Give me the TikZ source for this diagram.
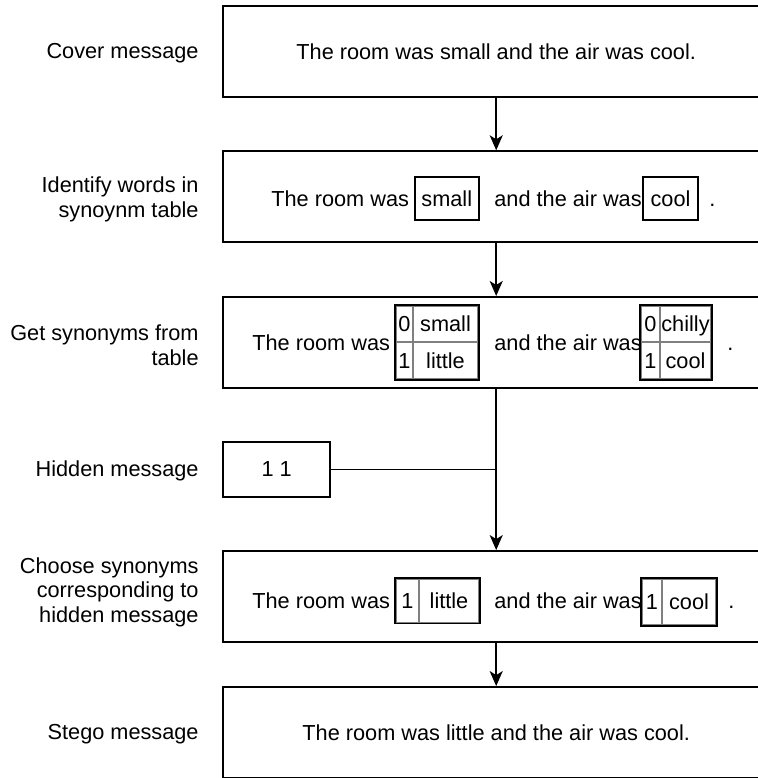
\documentclass[tikz,border=0pt]{standalone}
\usepackage{fontspec}
\setmainfont{Liberation Sans}
\usetikzlibrary{arrows.meta}

\begin{document}
\begin{tikzpicture}[x=0.5bp,y=-0.5bp,font=\fontsize{10.9}{12.3}\selectfont,stage/.style={shape=rectangle,draw=black,line width=0.9bp,minimum width=272.85bp,minimum height=45.5bp,inner sep=0pt},stepname/.style={anchor=east,align=right,inner sep=0pt},piece/.style={anchor=west,inner sep=0pt,text height=0.9em,text depth=0.1em},wordbox/.style={shape=rectangle,draw=black,line width=0.9bp,inner sep=0pt,minimum height=21.5bp,text height=0.9em,text depth=0.1em},cell/.style={shape=rectangle,draw=gray,line width=0.9bp,inner sep=0pt,text height=0.9em,text depth=0.1em},frame/.style={draw=black,line width=0.9bp},flow/.style={line width=0.9bp,-{Stealth[length=7.5bp,width=6.5bp,inset=2bp]}},link/.style={line width=0.9bp}]
\def\xm{496.2};
\def\xl{199};

\useasboundingbox (0,0) rectangle (758,778);
\clip (0,0) rectangle (758,778);

\node[stage] (cover) at (\xm,51.4) {The room was small and the air was cool.};
\node[stage] (ident) at (\xm,196.7) {};
\node[stage] (getsyn) at (\xm,342.4) {};
\node[stage,minimum width=53.35bp,minimum height=27.5bp] (hidden) at (276.6,469.5) {1 1};
\node[stage] (choose) at (\xm,596.5) {};
\node[stage] (stego) at (\xm,732.5) {The room was little and the air was cool.};

\node[stepname] (lcover) at (\xl,53) {Cover message};
\node[stepname] (lident) at (\xl,199.5) {Identify words in\\synoynm table};
\node[stepname] (lgetsyn) at (\xl,345) {Get synonyms from\\table};
\node[stepname] (lhidden) at (\xl,471) {Hidden message};
\node[stepname] (lchoose) at (\xl,592) {Choose synonyms\\corresponding to\\hidden message};
\node[stepname] (lstego) at (\xl,734) {Stego message};

\node[piece] (t2a) at (271,198.5) {The room was};
\node[wordbox,minimum width=32.2bp] (w2a) at (446.8,198.5) {small};
\node[piece] (t2b) at (494,198.5) {and the air was};
\node[wordbox,minimum width=27.5bp] (w2b) at (670.5,198.5) {cool};
\node[piece] (t2c) at (709,198.5) {.};

\node[piece] (t3a) at (252,342.4) {The room was};
\node[cell,minimum width=8.8bp,minimum height=18.25bp] (k3a) at (404.5,323.9) {0};
\node[cell,minimum width=32.2bp,minimum height=18.25bp] (v3a) at (445.5,323.9) {small};
\node[cell,minimum width=8.8bp,minimum height=18.25bp] (k3b) at (404.5,360.5) {1};
\node[cell,minimum width=32.2bp,minimum height=18.25bp] (v3b) at (445.5,360.5) {little};
\draw[frame] (k3a.north west) rectangle (v3b.south east);
\node[piece] (t3b) at (494,342.4) {and the air was};
\node[cell,minimum width=9.65bp,minimum height=18.25bp] (k3c) at (650.35,323.9) {0};
\node[cell,minimum width=25.5bp,minimum height=18.25bp] (v3c) at (685.5,323.9) {chilly};
\node[cell,minimum width=9.65bp,minimum height=18.25bp] (k3d) at (650.35,360.5) {1};
\node[cell,minimum width=25.5bp,minimum height=18.25bp] (v3d) at (685.5,360.5) {cool};
\draw[frame] (k3c.north west) rectangle (v3d.south east);
\node[piece] (t3c) at (727,342.4) {.};

\node[piece] (t5a) at (252,601) {The room was};
\node[cell,minimum width=11.5bp,minimum height=21.75bp] (k5a) at (407.5,600.75) {1};
\node[cell,minimum width=30bp,minimum height=21.75bp] (v5a) at (449,600.75) {little};
\draw[frame] (k5a.north west) rectangle (v5a.south east);
\node[piece] (t5b) at (494,601) {and the air was};
\node[cell,minimum width=10bp,minimum height=23bp] (k5b) at (652,602) {1};
\node[cell,minimum width=27bp,minimum height=23bp] (v5b) at (689,602) {cool};
\draw[frame] (k5b.north west) rectangle (v5b.south east);
\node[piece] (t5c) at (728,601) {.};

\draw[flow] (cover) -- (ident);
\draw[flow] (ident) -- (getsyn);
\draw[flow] (getsyn) -- (choose);
\coordinate (join) at (getsyn.south |- hidden.east);
\draw[link] (hidden) -- (join);
\draw[flow] (choose) -- (stego);
\end{tikzpicture}
\end{document}
